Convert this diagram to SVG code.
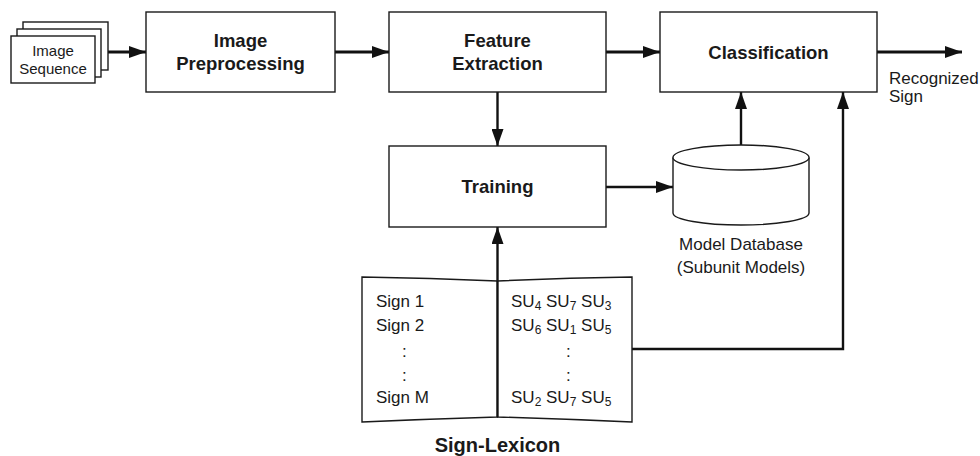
<svg xmlns="http://www.w3.org/2000/svg" width="980" height="456" viewBox="0 0 980 456">
<style>
.box{fill:#fff;stroke:#1a1a1a;stroke-width:1.4}
.bt{font-family:"Liberation Sans",Arial,sans-serif;font-weight:bold;font-size:18.5px;fill:#1a1a1a;text-anchor:middle}
.t{font-family:"Liberation Sans",Arial,sans-serif;font-size:17px;fill:#1a1a1a}
.c{stroke:#111;fill:none}
.thick{stroke-width:3.2}
.thin{stroke-width:2.4}
</style>
<defs>
<marker id="ah" markerUnits="userSpaceOnUse" markerWidth="17" markerHeight="12" refX="17" refY="6" orient="auto">
<path d="M0,0 L17,6 L0,12 z" fill="#111"/>
</marker>
</defs>
<g id="connectors">
<line class="c thick" x1="108" y1="52" x2="146" y2="52" marker-end="url(#ah)"/>
<line class="c thick" x1="335" y1="52" x2="389" y2="52" marker-end="url(#ah)"/>
<line class="c thick" x1="606" y1="52" x2="660" y2="52" marker-end="url(#ah)"/>
<line class="c thick" x1="877" y1="52" x2="962" y2="52" marker-end="url(#ah)"/>
<line class="c thin" x1="497.5" y1="92" x2="497.5" y2="146" marker-end="url(#ah)"/>
<line class="c thin" x1="606" y1="187" x2="673" y2="187" marker-end="url(#ah)"/>
<line class="c thin" x1="741" y1="145" x2="741" y2="92" marker-end="url(#ah)"/>
<line class="c thin" x1="497.5" y1="281" x2="497.5" y2="227" marker-end="url(#ah)"/>
<polyline class="c thin" points="632,349 843,349 843,92" marker-end="url(#ah)"/>
</g>
<g id="image-sequence">
<rect class="box" x="23" y="22" width="85" height="48"/>
<rect class="box" x="17" y="29" width="84" height="48"/>
<rect class="box" x="11" y="36" width="84" height="47"/>
<text class="t" x="53" y="56" text-anchor="middle" style="font-size:15px">Image</text>
<text class="t" x="53" y="74" text-anchor="middle" style="font-size:15px">Sequence</text>
</g>
<g id="image-preprocessing">
<rect class="box" x="146" y="12" width="189" height="80"/>
<text class="bt" x="240.5" y="47">Image</text>
<text class="bt" x="240.5" y="70">Preprocessing</text>
</g>
<g id="feature-extraction">
<rect class="box" x="389" y="12" width="217" height="80"/>
<text class="bt" x="497.5" y="47">Feature</text>
<text class="bt" x="497.5" y="70">Extraction</text>
</g>
<g id="classification">
<rect class="box" x="660" y="12" width="217" height="80"/>
<text class="bt" x="768.5" y="59">Classification</text>
</g>
<g id="recognized-sign">
<text class="t" x="889" y="84">Recognized</text>
<text class="t" x="889" y="102">Sign</text>
</g>
<g id="training">
<rect class="box" x="389" y="146" width="217" height="81"/>
<text class="bt" x="497.5" y="193">Training</text>
</g>
<g id="model-database">
<path class="box" d="M673,157.5 L673,213 A68,12 0 0 0 809,213 L809,157.5"/>
<ellipse class="box" cx="741" cy="157.5" rx="68" ry="12.5"/>
<text class="t" x="741" y="250" text-anchor="middle">Model Database</text>
<text class="t" x="741" y="273" text-anchor="middle">(Subunit Models)</text>
</g>
<g id="sign-lexicon">
<path class="box" d="M362,277 Q430,278 497.5,281 L497.5,417 Q430,419 362,422 Z"/>
<path class="box" d="M632,277 Q565,278 497.5,281 L497.5,417 Q565,419 632,422 Z"/>
<line x1="497.5" y1="281" x2="497.5" y2="417" stroke="#111" stroke-width="2.2"/>
<text class="t" x="376" y="307">Sign 1</text>
<text class="t" x="376" y="331">Sign 2</text>
<text class="t" x="402" y="357">:</text>
<text class="t" x="402" y="381">:</text>
<text class="t" x="376" y="403">Sign M</text>
<text class="t" x="511" y="307">SU<tspan dy="3" font-size="12">4</tspan><tspan dy="-3"> SU</tspan><tspan dy="3" font-size="12">7</tspan><tspan dy="-3"> SU</tspan><tspan dy="3" font-size="12">3</tspan></text>
<text class="t" x="511" y="331">SU<tspan dy="3" font-size="12">6</tspan><tspan dy="-3"> SU</tspan><tspan dy="3" font-size="12">1</tspan><tspan dy="-3"> SU</tspan><tspan dy="3" font-size="12">5</tspan></text>
<text class="t" x="566" y="357">:</text>
<text class="t" x="566" y="381">:</text>
<text class="t" x="511" y="403">SU<tspan dy="3" font-size="12">2</tspan><tspan dy="-3"> SU</tspan><tspan dy="3" font-size="12">7</tspan><tspan dy="-3"> SU</tspan><tspan dy="3" font-size="12">5</tspan></text>
<text class="bt" x="497.5" y="452" style="font-size:20px">Sign-Lexicon</text>
</g>
</svg>
